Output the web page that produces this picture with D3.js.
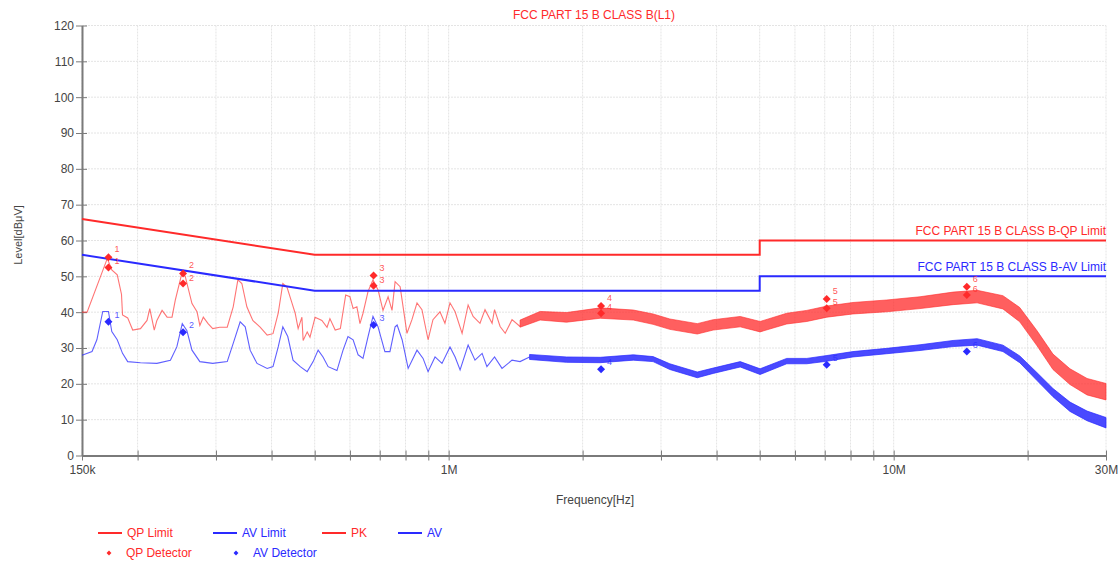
<!doctype html>
<html>
<head>
  <meta charset="utf8"/>
  <style>
    body { margin: 0; background: #fff; }
    svg text { font-family: "Liberation Sans", Arial, sans-serif; }
    .grid line { stroke: #e4e4e4; stroke-width: 1px; stroke-dasharray: 2,1; }
    .axis path, .axis line { stroke: #7a7a7a; }
    .axis path { stroke-width: 2px; }
    .axis text { fill: #444; font-size: 12px; }
  </style>
</head>
<body>
  <svg width="1120" height="561"></svg>
  <script src="https://d3js.org/d3.v7.min.js"></script>
  <script>

    // frequencies in MHz, levels in dBuV
    var limitFreq = [0.15, 0.5, 5, 5, 30];
    var qpLimit   = [66, 56, 56, 60, 60];
    var avLimit   = [56, 46, 46, 50, 50];

    // PK trace, low band (read point by point)
    var pkFreq = [0.150, 0.154, 0.171, 0.175, 0.180, 0.184, 0.185, 0.190, 0.195, 0.203,
                  0.210, 0.213, 0.218, 0.221, 0.227, 0.233, 0.239, 0.243, 0.252, 0.256,
                  0.265, 0.272, 0.276, 0.281, 0.288, 0.295, 0.306, 0.318, 0.328, 0.336,
                  0.343, 0.352, 0.363, 0.377, 0.391, 0.403, 0.414, 0.424, 0.433, 0.445,
                  0.452, 0.459, 0.468, 0.471, 0.481, 0.488, 0.501, 0.519, 0.533, 0.541,
                  0.556, 0.571, 0.587, 0.600, 0.610, 0.622, 0.632, 0.642, 0.659, 0.676,
                  0.694, 0.712, 0.731, 0.746, 0.758, 0.778, 0.806, 0.827, 0.849, 0.871,
                  0.899, 0.922, 0.956, 0.981, 1.007, 1.034, 1.072, 1.106, 1.135, 1.176,
                  1.207, 1.252, 1.268, 1.305, 1.340, 1.388, 1.447];
    var pkLevel = [40.0, 40.0, 55.0, 51.8, 50.4, 45.0, 39.2, 38.4, 35.0, 35.4,
                   37.7, 41.0, 35.0, 37.7, 40.5, 38.6, 38.6, 43.3, 51.3, 49.9,
                   42.4, 40.1, 36.3, 38.6, 36.8, 35.4, 35.8, 35.8, 41.5, 49.0,
                   48.0, 41.5, 37.7, 35.8, 33.6, 34.0, 39.7, 48.0, 47.1, 42.4,
                   39.7, 35.4, 38.6, 32.1, 34.5, 33.0, 38.6, 37.7, 35.8, 38.2,
                   35.0, 35.4, 44.8, 44.3, 41.0, 41.5, 36.8, 39.7, 45.8, 49.0,
                   46.2, 40.5, 44.3, 40.5, 48.5, 47.1, 34.1, 37.9, 42.6, 40.7,
                   32.3, 37.9, 40.1, 36.9, 42.6, 40.1, 34.1, 42.0, 38.8, 36.9,
                   40.7, 36.9, 40.7, 36.0, 34.1, 37.9, 36.0];

    // PK trace, dense band: upper and lower edge of the noise
    var pkBandFreq = [1.447, 1.605, 1.84, 2.19, 2.60, 2.88, 3.14, 3.62, 3.93, 4.52,
                      5.01, 5.75, 6.38, 7.08, 8.10, 9.65, 11.46, 13.6, 15.4, 17.6,
                      19.2, 21.0, 22.8, 24.9, 27.2, 30.0];
    var pkHi = [37.8, 40.2, 39.9, 41.2, 40.6, 39.5, 38.1, 36.8, 37.9, 38.8,
                37.4, 39.7, 40.5, 41.7, 42.7, 43.4, 44.3, 45.6, 46.1, 44.6,
                41.3, 34.8, 28.3, 24.2, 21.5, 20.1];
    var pkLo = [35.8, 37.8, 37.2, 38.3, 37.8, 36.6, 35.2, 33.9, 35.0, 35.9,
                34.5, 36.7, 37.4, 38.6, 39.5, 40.1, 41.0, 42.1, 42.6, 40.9,
                37.3, 30.6, 24.0, 19.8, 16.9, 15.5];

    // AV trace, low band
    var avFreq = [0.150, 0.158, 0.162, 0.167, 0.172, 0.175, 0.180, 0.185, 0.190, 0.203,
                  0.221, 0.237, 0.245, 0.252, 0.258, 0.265, 0.276, 0.295, 0.318, 0.328,
                  0.340, 0.349, 0.358, 0.371, 0.391, 0.403, 0.414, 0.424, 0.435, 0.447,
                  0.464, 0.481, 0.496, 0.509, 0.522, 0.536, 0.561, 0.579, 0.594, 0.610,
                  0.626, 0.642, 0.659, 0.676, 0.694, 0.719, 0.738, 0.758, 0.766, 0.786,
                  0.811, 0.849, 0.876, 0.899, 0.932, 0.966, 1.007, 1.034, 1.061, 1.106,
                  1.146, 1.189, 1.219, 1.268, 1.318, 1.388, 1.447, 1.520];
    var avLevel = [28.0, 29.0, 32.3, 40.2, 40.2, 34.6, 32.3, 28.5, 26.2, 25.9,
                   25.7, 26.6, 30.3, 36.8, 34.9, 29.4, 26.2, 25.7, 26.2, 31.3,
                   37.3, 35.9, 29.4, 25.7, 24.3, 24.8, 30.3, 35.9, 33.2, 26.6,
                   24.8, 23.4, 26.2, 29.4, 27.5, 24.8, 23.7, 29.4, 33.2, 32.3,
                   28.1, 27.1, 33.2, 38.8, 35.9, 29.0, 29.0, 35.9, 36.4, 32.3,
                   24.3, 29.4, 27.1, 23.4, 27.5, 25.7, 30.3, 27.5, 23.9, 30.8,
                   26.6, 28.5, 24.8, 27.5, 24.3, 26.6, 26.2, 27.5];

    // AV trace, dense band
    var avBandFreq = [1.52, 1.84, 2.19, 2.60, 2.88, 3.14, 3.62, 3.93, 4.52, 5.01,
                      5.75, 6.38, 7.08, 8.10, 9.65, 11.46, 13.6, 15.4, 17.6, 19.2,
                      21.0, 22.8, 24.9, 27.2, 30.0];
    var avHi = [28.2, 27.5, 27.4, 28.1, 27.6, 25.6, 23.3, 24.4, 26.2, 24.2,
                27.1, 27.1, 27.9, 29.0, 29.9, 30.9, 32.1, 32.6, 30.8, 27.8,
                23.1, 18.7, 14.9, 12.4, 10.6];
    var avLo = [26.8, 26.0, 25.9, 26.6, 26.2, 24.0, 21.7, 22.9, 24.7, 22.6,
                25.6, 25.6, 26.3, 27.5, 28.4, 29.3, 30.4, 30.8, 29.0, 25.9,
                20.9, 16.4, 12.3, 9.7, 7.7];

    // detector markers
    var markerFreq = [0.172, 0.253, 0.678, 2.2, 7.07, 14.6];
    var markerIds  = ['1', '2', '3', '4', '5', '6'];
    var pkMarker   = [55.3, 50.8, 50.2, 41.7, 43.7, 47.1];
    var qpMarker   = [52.5, 48.0, 47.4, 39.7, 41.1, 44.8];
    var avMarker   = [37.3, 34.4, 36.4, 24.1, 25.3, 29.0];

    var xTickValues = [0.15, 0.2, 0.3, 0.4, 0.5, 0.6, 0.7, 0.8, 0.9, 1, 2, 3, 4, 5, 6, 7, 8, 9, 10, 20, 30];
    var xTickLabels = {0.15: '150k', 1: '1M', 10: '10M', 30: '30M'};
    var yTickValues = [0, 10, 20, 30, 40, 50, 60, 70, 80, 90, 100, 110, 120];

    var RED = '#ff2a2a', BLUE = '#2a2aff';

    var svg = d3.select('svg'),
        margin = {top: 25.5, left: 82, right: 14, bottom: 105.5},
        width = +svg.attr('width') - margin.left - margin.right,
        height = +svg.attr('height') - margin.top - margin.bottom,
        g = svg.append('g').attr('transform', 'translate(' + margin.left + ',' + margin.top + ')');

    var x = d3.scaleLog().domain([0.15, 30]).range([0, width]);
    var y = d3.scaleLinear().domain([0, 120]).range([height, 0]);

    // grid
    var grid = g.append('g').attr('class', 'grid');
    grid.selectAll('.gx').data(xTickValues).enter().append('line')
      .attr('x1', function(d) { return x(d); }).attr('x2', function(d) { return x(d); })
      .attr('y1', 0).attr('y2', height);
    grid.selectAll('.gy').data(yTickValues).enter().append('line')
      .attr('x1', 0).attr('x2', width)
      .attr('y1', function(d) { return y(d); }).attr('y2', function(d) { return y(d); });

    // axes
    g.append('g')
      .attr('class', 'axis')
      .attr('transform', 'translate(0,' + height + ')')
      .call(d3.axisBottom(x).tickValues(xTickValues).tickSizeOuter(0).tickSizeInner(5)
              .tickFormat(function(d) { return xTickLabels[d] || ''; }))
      .call(function(a) {
        a.selectAll('.tick line').attr('y1', -5);
        a.selectAll('.tick text').attr('dy', '0.9em');
      });

    g.append('g')
      .attr('class', 'axis')
      .call(d3.axisLeft(y).tickValues(yTickValues).tickSizeOuter(0).tickSizeInner(6))
      .call(function(a) {
        a.selectAll('.tick line').attr('x2', 5).attr('x1', -6);
        a.selectAll('.tick text').attr('x', -8);
      });

    var line = d3.line()
      .x(function(d) { return x(d[0]); })
      .y(function(d) { return y(d[1]); });
    var band = d3.area()
      .x(function(d) { return x(d[0]); })
      .y0(function(d) { return y(d[2]); })
      .y1(function(d) { return y(d[1]); });

    function pairs(f, v) { return f.map(function(d, i) { return [d, v[i]]; }); }
    function triples(f, a, b) { return f.map(function(d, i) { return [d, a[i], b[i]]; }); }

    // AV trace
    g.append('path').attr('d', line(pairs(avFreq, avLevel)))
      .attr('fill', 'none').attr('stroke', BLUE).attr('stroke-opacity', 0.75).attr('stroke-width', 1.1);
    g.append('path').attr('d', band(triples(avBandFreq, avHi, avLo)))
      .attr('fill', BLUE).attr('fill-opacity', 0.85).attr('stroke', BLUE).attr('stroke-opacity', 0.7).attr('stroke-width', 1);

    // PK trace
    g.append('path').attr('d', line(pairs(pkFreq, pkLevel)))
      .attr('fill', 'none').attr('stroke', RED).attr('stroke-opacity', 0.65).attr('stroke-width', 1.1);
    g.append('path').attr('d', band(triples(pkBandFreq, pkHi, pkLo)))
      .attr('fill', RED).attr('fill-opacity', 0.75).attr('stroke', RED).attr('stroke-opacity', 0.6).attr('stroke-width', 1);

    // limits
    g.append('path').attr('d', line(pairs(limitFreq, qpLimit)))
      .attr('fill', 'none').attr('stroke', RED).attr('stroke-width', 2);
    g.append('path').attr('d', line(pairs(limitFreq, avLimit)))
      .attr('fill', 'none').attr('stroke', BLUE).attr('stroke-width', 2);

    g.append('text').attr('x', width).attr('y', y(61.5)).attr('text-anchor', 'end')
      .attr('fill', RED).style('font-size', '12px').text('FCC PART 15 B CLASS B-QP Limit');
    g.append('text').attr('x', width).attr('y', y(51.4)).attr('text-anchor', 'end')
      .attr('fill', BLUE).style('font-size', '12px').text('FCC PART 15 B CLASS B-AV Limit');

    // markers (diamonds = squares turned 45 degrees)
    var diamond = d3.symbol().type(d3.symbolSquare).size(32);
    function drawMarkers(levels, color, labelDy) {
      var m = g.append('g');
      m.selectAll('path').data(levels).enter().append('path')
        .attr('d', diamond)
        .attr('fill', color)
        .attr('transform', function(d, i) {
          return 'translate(' + x(markerFreq[i]) + ',' + y(d) + ') rotate(45)';
        });
      m.selectAll('text').data(levels).enter().append('text')
        .attr('x', function(d, i) { return x(markerFreq[i]) + 6; })
        .attr('y', function(d) { return y(d) + labelDy; })
        .attr('fill', color).attr('fill-opacity', 0.8)
        .style('font-size', '9px')
        .text(function(d, i) { return markerIds[i]; });
    }
    drawMarkers(pkMarker, RED, -5);
    drawMarkers(qpMarker, RED, -3);
    drawMarkers(avMarker, BLUE, -4);

    // titles
    svg.append('text').attr('x', 594).attr('y', 19).attr('text-anchor', 'middle')
      .attr('fill', RED).style('font-size', '12px').text('FCC PART 15 B CLASS B(L1)');
    svg.append('text').attr('x', 595).attr('y', 504).attr('text-anchor', 'middle')
      .attr('fill', '#444').style('font-size', '12px').text('Frequency[Hz]');
    svg.append('text').attr('transform', 'translate(22,235) rotate(-90)').attr('text-anchor', 'middle')
      .attr('fill', '#444').style('font-size', '11px').text('Level[dBμV]');

    // legend
    var legendLines = [
      {label: 'QP Limit', color: RED, x: 98},
      {label: 'AV Limit', color: BLUE, x: 213},
      {label: 'PK', color: RED, x: 322},
      {label: 'AV', color: BLUE, x: 398}
    ];
    var legendDots = [
      {label: 'QP Detector', color: RED, x: 109},
      {label: 'AV Detector', color: BLUE, x: 236}
    ];
    var lg = svg.append('g');
    legendLines.forEach(function(d) {
      lg.append('line').attr('x1', d.x).attr('x2', d.x + 24).attr('y1', 533).attr('y2', 533)
        .attr('stroke', d.color).attr('stroke-width', 2);
      lg.append('text').attr('x', d.x + 29).attr('y', 537).attr('fill', d.color)
        .style('font-size', '12px').text(d.label);
    });
    legendDots.forEach(function(d) {
      lg.append('path').attr('d', d3.symbol().type(d3.symbolSquare).size(12))
        .attr('transform', 'translate(' + d.x + ',553) rotate(45)').attr('fill', d.color);
      lg.append('text').attr('x', d.x + 17).attr('y', 557).attr('fill', d.color)
        .style('font-size', '12px').text(d.label);
    });

  </script>
</body>
</html>
